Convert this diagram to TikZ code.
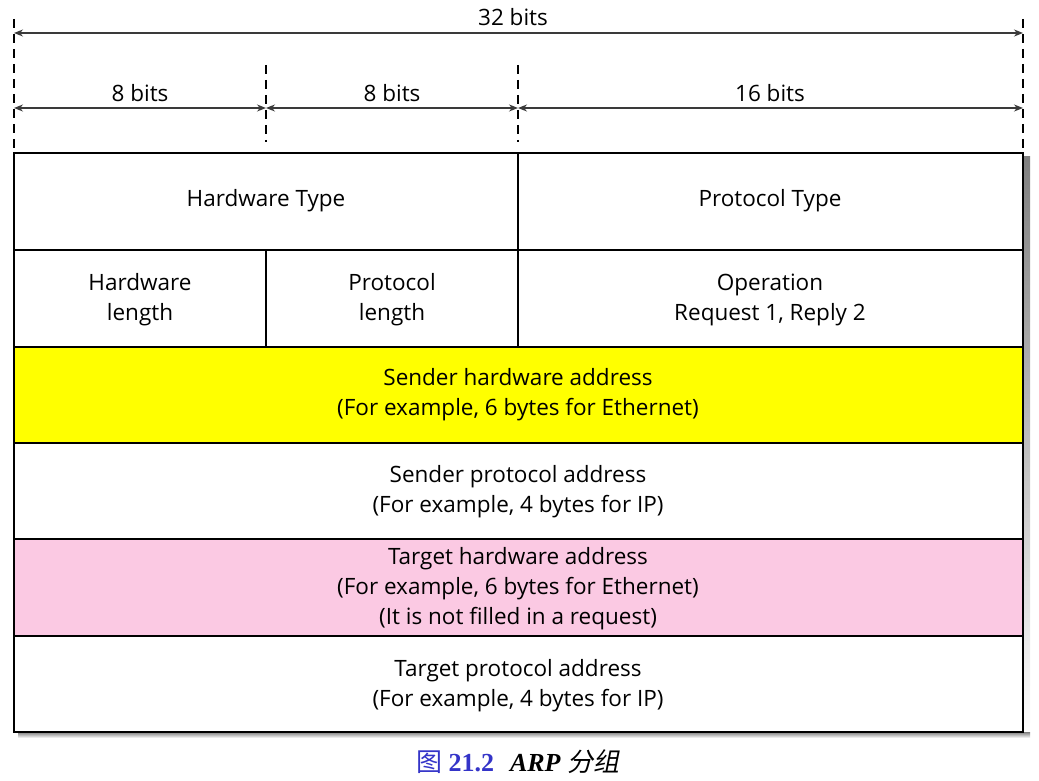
\documentclass[tikz,border=0pt]{standalone}
\usepackage{fontspec}
\setmainfont{Open Sans}
\newfontfamily\cjk{Noto Sans CJK SC}
\newfontfamily\cjkit[FakeSlant=0.2]{Noto Sans CJK SC}
\newfontfamily\capserif{Liberation Serif}
\usetikzlibrary{arrows.meta}
\definecolor{pinkfill}{HTML}{FBC9E3}
\definecolor{yelfill}{HTML}{FFFF00}
\definecolor{capblue}{HTML}{3434C8}
\definecolor{shade}{HTML}{2E2E2E}
\definecolor{linegray}{HTML}{3A3A3A}
\begin{document}
\begin{tikzpicture}[x=1pt,y=-1pt,
  cell/.style={draw=black,line width=1.6pt},
  lbl/.style={font=\fontsize{22.5}{30}\selectfont,align=center,inner sep=0pt},
  dimline/.style={draw=linegray,line width=1.4pt,{Stealth[length=9pt,width=7pt]}-{Stealth[length=9pt,width=7pt]}},
  guide/.style={draw=black,line width=1.6pt,dash pattern=on 9pt off 6pt}]
\useasboundingbox (0,0) rectangle (1039,781);
% shadow
\fill[shade] (1023,157) rectangle (1030,738);
\fill[shade] (18,732) rectangle (1030,738);
% rows
\draw[cell,fill=white] (14,153) rectangle (518,250);
\draw[cell,fill=white] (518,153) rectangle (1023,250);
\draw[cell,fill=white] (14,250) rectangle (266,347);
\draw[cell,fill=white] (266,250) rectangle (518,347);
\draw[cell,fill=white] (518,250) rectangle (1023,347);
\draw[cell,fill=yelfill] (14,347) rectangle (1023,443);
\draw[cell,fill=white] (14,443) rectangle (1023,539);
\draw[cell,fill=pinkfill] (14,539) rectangle (1023,636);
\draw[cell,fill=white] (14,636) rectangle (1023,732);
% labels
\node[lbl] (hwt) at (266,201) {Hardware Type};
\node[lbl] (prt) at (770,201) {Protocol Type};
\node[lbl] (hwl) at (140,300) {Hardware\\length};
\node[lbl] (prl) at (392,300) {Protocol\\length};
\node[lbl] (op) at (770,300) {Operation\\Request 1, Reply 2};
\node[lbl] (sha) at (518,395) {Sender hardware address\\(For example, 6 bytes for Ethernet)};
\node[lbl] (spa) at (518,492) {Sender protocol address\\(For example, 4 bytes for IP)};
\node[lbl] (tha) at (518,589) {Target hardware address\\(For example, 6 bytes for Ethernet)\\(It is not filled in a request)};
\node[lbl] (tpa) at (518,686) {Target protocol address\\(For example, 4 bytes for IP)};
% guides
\coordinate (g0t) at (14,19); \coordinate (g0b) at (14,148);
\coordinate (g3t) at (1023,19); \coordinate (g3b) at (1023,148);
\coordinate (g1t) at (266,65); \coordinate (g1b) at (266,142);
\coordinate (g2t) at (518,65); \coordinate (g2b) at (518,142);
\draw[guide] (g0t) -- (g0b);
\draw[guide] (g3t) -- (g3b);
\draw[guide] (g1t) -- (g1b);
\draw[guide] (g2t) -- (g2b);
% dimension arrows
\coordinate (a0) at (14,33); \coordinate (a3) at (1023,33);
\coordinate (b0) at (14,108); \coordinate (b1) at (266,108);
\coordinate (b2) at (518,108); \coordinate (b3) at (1023,108);
\draw[dimline] (a0) -- (a3);
\draw[dimline] (b0) -- (b1);
\draw[dimline] (b1) -- (b2);
\draw[dimline] (b2) -- (b3);
\node[lbl] (t32) at (513,17) {32 bits};
\node[lbl] (t8a) at (140,93) {8 bits};
\node[lbl] (t8b) at (392,93) {8 bits};
\node[lbl] (t16) at (770,93) {16 bits};
% caption
\node[inner sep=0pt,font=\fontsize{26}{30}\selectfont] (cap) at (518,762)
  {\textcolor{capblue}{\cjk 图\ \capserif\bfseries 21.2}\hspace{16pt}{\capserif\bfseries\itshape ARP} {\cjkit 分组}};
\end{tikzpicture}
\end{document}
